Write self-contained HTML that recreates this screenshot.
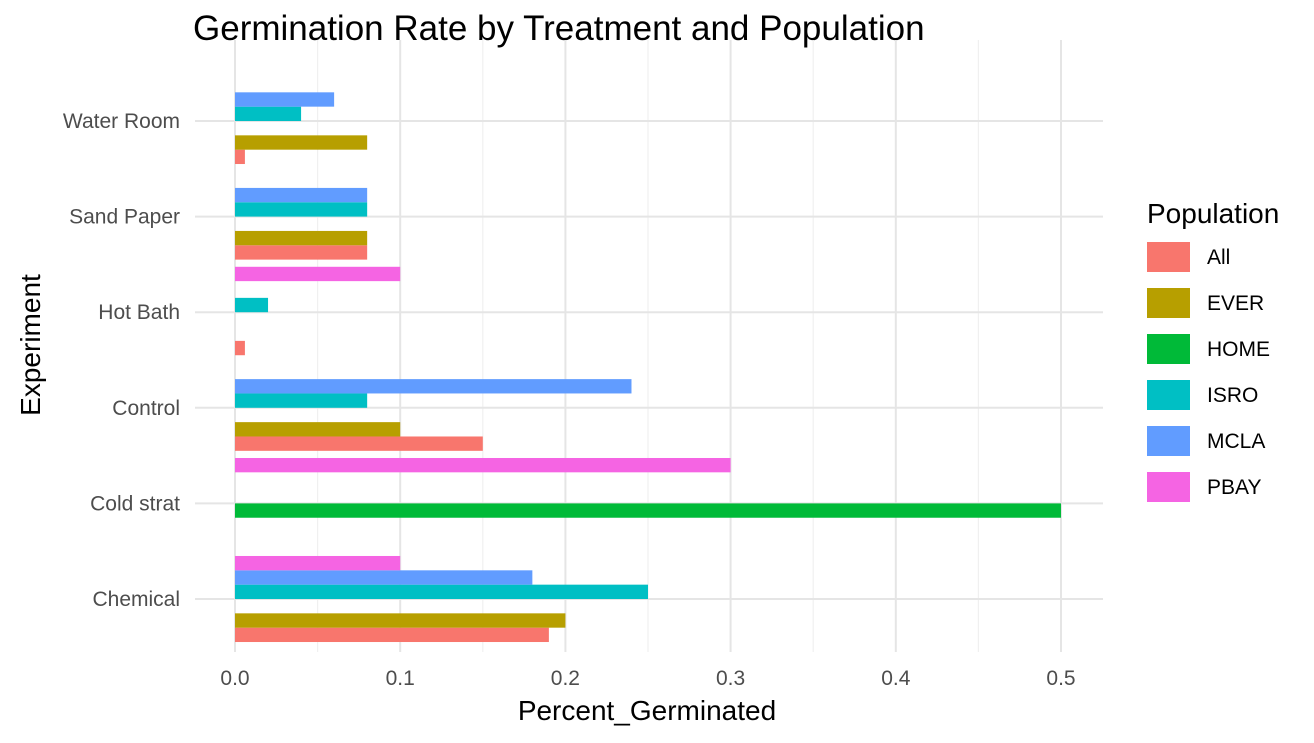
<!DOCTYPE html>
<html><head><meta charset="utf-8"><style>
body{margin:0;background:#fff;font-family:"Liberation Sans",Arial,sans-serif}
</style></head><body>
<svg id="chart" width="1314" height="738" xmlns="http://www.w3.org/2000/svg">
<text x="193" y="40" font-size="35" fill="#000">Germination Rate by Treatment and Population</text>
<g id="grid"></g><g id="bars"></g><g id="axes"></g><g id="legend"></g>
<text x="647" y="720" font-size="28" text-anchor="middle" fill="#000">Percent_Germinated</text>
<text transform="translate(40,345) rotate(-90)" font-size="28" text-anchor="middle" fill="#000">Experiment</text>
</svg>
<script>
const categories = ["Water Room","Sand Paper","Hot Bath","Control","Cold strat","Chemical"];
const populations = ["All","EVER","HOME","ISRO","MCLA","PBAY"];
const colors = ["#F8766D","#B79F00","#00BA38","#00BFC4","#619CFF","#F564E3"];
const barCategory = ["Chemical","Chemical","Chemical","Chemical","Chemical","Cold strat","Control","Control","Control","Control","Control","Hot Bath","Hot Bath","Sand Paper","Sand Paper","Sand Paper","Sand Paper","Sand Paper","Water Room","Water Room","Water Room","Water Room"];
const barPopulation = ["All","EVER","ISRO","MCLA","PBAY","HOME","All","EVER","ISRO","MCLA","PBAY","All","ISRO","All","EVER","ISRO","MCLA","PBAY","All","EVER","ISRO","MCLA"];
const barValues = [0.19,0.2,0.25,0.18,0.1,0.5,0.15,0.1,0.08,0.24,0.3,0.006,0.02,0.08,0.08,0.08,0.08,0.1,0.006,0.08,0.04,0.06];
const barSlot = [0,1,3,4,5,2,0,1,3,4,-1.5,0,3,0,1,3,4,-1.5,0,1,3,4];
const xTicks = [0,0.1,0.2,0.3,0.4,0.5];
const xTickLabels = ["0.0","0.1","0.2","0.3","0.4","0.5"];

const NS="http://www.w3.org/2000/svg";
const x = v => 235 + v*1652;
const y = c => 121 + categories.indexOf(c)*95.6;
const bh = 95.6*0.9/6;
function mk(tag, attrs, parent){const e=document.createElementNS(NS,tag);for(const k in attrs)e.setAttribute(k,attrs[k]);parent.appendChild(e);return e;}
const grid=document.getElementById('grid'), bars=document.getElementById('bars'), axes=document.getElementById('axes'), legend=document.getElementById('legend');
for(let i=0;i<xTicks.length-1;i++){
  const m=(xTicks[i]+xTicks[i+1])/2;
  const l=mk('line',{x1:x(m),x2:x(m),y1:40,y2:652,stroke:'#f0f0f0','stroke-width':1.2},grid);
  
  
}
xTicks.forEach((t,i)=>{
  const l=mk('line',{x1:x(t),x2:x(t),y1:40,y2:652,stroke:'#e5e5e5','stroke-width':2},grid);
  
  
  const tx=mk('text',{x:x(t),y:685,'font-size':21,'text-anchor':'middle',fill:'#4d4d4d'},axes);
  tx.textContent=xTickLabels[i];
  
  
});
categories.forEach(c=>{
  const l=mk('line',{x1:195,x2:1103,y1:y(c),y2:y(c),stroke:'#e5e5e5','stroke-width':2},grid);
  
  
  const tx=mk('text',{x:180,y:y(c)+7,'font-size':21,'text-anchor':'end',fill:'#4d4d4d'},axes);
  tx.textContent=c;
  
  
});
barValues.forEach((v,i)=>{
  const cy=y(barCategory[i])+(2.5-barSlot[i])*bh;
  const r=mk('rect',{x:x(0),y:cy-bh/2,width:x(v)-x(0),height:bh,fill:colors[populations.indexOf(barPopulation[i])]},bars);
  
  
});
const lt=mk('text',{x:1147,y:223,'font-size':28,fill:'#000'},legend);
lt.textContent='Population';


populations.forEach((p,i)=>{
  const ty=242+i*46;
  const r=mk('rect',{x:1147,y:ty,width:43,height:30,fill:colors[i]},legend);
  
  
  const t=mk('text',{x:1207,y:ty+22,'font-size':21,fill:'#000'},legend);
  t.textContent=p;
  
  
});
</script>
</body></html>
